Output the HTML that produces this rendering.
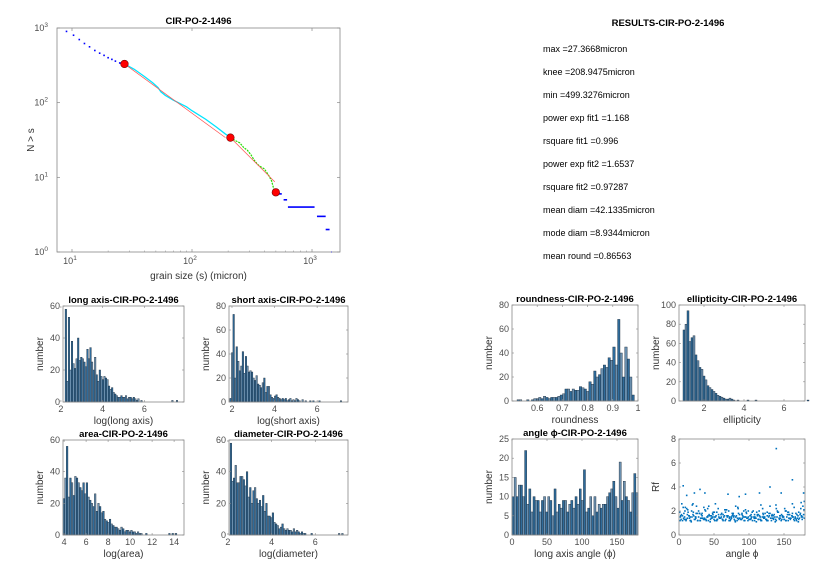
<!DOCTYPE html>
<html><head><meta charset="utf-8"><style>
body{margin:0;background:#fff;}
svg{display:block;font-family:"Liberation Sans",Arial,sans-serif;}
.tk{font-size:9px;fill:#4d4d4d;}
.lb{font-size:10px;fill:#333;}
.tt{font-size:9.5px;font-weight:bold;fill:#000;}
.rs{font-size:9px;fill:#000;}
</style></head><body>
<svg id="fig" width="831" height="576" viewBox="0 0 831 576">
<rect width="831" height="576" fill="#fff"/>
<text class="tt" x="668" y="26" text-anchor="middle">RESULTS-CIR-PO-2-1496</text>
<g>
<text class="rs" x="543" y="52">max =27.3668micron</text>
<text class="rs" x="543" y="75">knee =208.9475micron</text>
<text class="rs" x="543" y="98">min =499.3276micron</text>
<text class="rs" x="543" y="121">power exp fit1 =1.168</text>
<text class="rs" x="543" y="144">rsquare fit1 =0.996</text>
<text class="rs" x="543" y="167">power exp fit2 =1.6537</text>
<text class="rs" x="543" y="190">rsquare fit2 =0.97287</text>
<text class="rs" x="543" y="213">mean diam =42.1335micron</text>
<text class="rs" x="543" y="236">mode diam =8.9344micron</text>
<text class="rs" x="543" y="259">mean round =0.86563</text>
</g>
</svg>
<script>
// ---------- main log-log plot data ----------
const headS=[9,10.3,11.5,12.7,14,15.5,17,18.5,20,21.5,23,25,26.5];
const headN=[900,800,700,620,560,500,460,430,400,380,360,340,330];
const cyanS=[27.4,33,40,47,52,55,60,70,80,90,100,130,160,190,200,209];
const cyanN=[330,280,225,185,160,140,125,108,97,88,78,60,47,38,36,34];
const greenS=[209,230,250,270,290,310,330,350,370,400,430,460,480,495];
const greenN=[34,31,29,25,23,20,17,15,14,13,11,9,7,6.5];
const fit1S=[27.4,190];const fit1N=[330,34];
const fit2S=[209,490];const fit2N=[34,8.7];
const kneeS=[27.37,208.95,499.33];const kneeN=[330,34,6.3];
const stepS1=[500,580,630,1100,1300,1440];
const stepS2=[560,620,1050,1300,1400,1450];
const stepN=[6,5,4,3,2,1];
const xTickLog=[1,2,3];const yTickLog=[0,1,2,3];

// ---------- histograms ----------
const longStart=2.2, longW=0.074;
const longCounts=[58,13,53,20,38,24,21,27,40,26,28,27,25,22,33,27,34,25,20,28,17,13,20,16,14,16,15,14,10,8,9,6,5,4,3,3,4,3,3,4,2,3,3,2,3,2,1,2,0,1,0,0,0,0,0,0,0,0,0,0,0,0,0,0,0,0,0,0,0,1,0,0,1];
const shortStart=1.9, shortW=0.072;
const shortCounts=[3,41,73,20,46,34,26,30,42,24,38,30,25,26,25,20,18,22,15,14,12,16,20,8,13,13,6,4,3,5,6,4,3,2,3,2,3,1,2,3,1,2,1,3,2,1,0,2,0,1,0,0,1,0,1,0,0,0,1,0,0,0,0,0,0,0,0,0,0,0,0,0,1];
const areaStart=3.9, areaW=0.15;
const areaCounts=[23,36,56,24,36,33,25,37,36,33,30,28,33,26,33,24,22,20,18,26,15,20,18,14,15,10,9,8,10,7,6,5,5,4,3,5,4,2,3,3,2,3,2,2,1,2,1,1,0,0,1,0,0,0,0,0,0,0,0,0,0,0,0,0,1,0,1,0,1,0];
const diamStart=2.1, diamW=0.074;
const diamCounts=[58,34,36,44,33,33,37,37,35,31,40,24,30,20,28,30,23,20,22,18,25,15,20,12,12,11,14,8,7,6,4,5,7,4,3,4,3,3,2,4,2,3,2,1,2,1,1,0,0,0,1,0,0,0,0,0,0,0,0,0,0,0,0,0,0,0,0,1,0,1];
const roundStart=0.52, roundW=0.0095;
const roundCounts=[1,1,0,0,1,0,1,2,2,3,2,4,3,2,3,3,3,4,5,6,10,10,8,10,9,9,12,11,10,8,16,14,25,20,22,27,30,28,36,34,45,30,68,40,20,45,35,20,5];
const ellStart=0.95, ellW=0.1;
const ellCounts=[74,80,94,62,66,68,48,42,35,33,26,22,16,14,12,10,8,6,5,4,3,2,2,3,2,1,0,1,0,0,0,0,1,0,0,0,1,0,0,0,0,0,0,0,0,0,0,0,0,0,0,0,0,0,0,0,0,0,0,0,0,0,1];
const angStart=0, angW=3;
const angCounts=[10,15,10,13,13,10,22,8,12,6,10,9,9,6,9,10,6,10,9,5,12,6,8,7,9,9,6,8,9,7,10,8,12,9,17,6,7,10,5,10,6,8,7,8,8,10,11,12,14,10,7,19,9,14,10,9,6,11,16,11];

// ---------- scatter Rf vs angle ----------
const scAng=[2,4,5,7,9,11,12,14,16,18,20,22,24,25,27,29,31,33,35,37,39,41,43,45,47,49,51,53,55,57,59,61,63,65,67,69,71,73,75,77,79,81,83,85,87,89,91,93,95,97,99,101,103,105,107,109,111,113,115,117,119,121,123,125,127,129,131,133,135,137,139,141,143,145,147,149,151,153,155,157,159,161,163,165,167,169,171,173,175,177,179,
3,6,8,10,13,15,17,19,21,23,26,28,30,32,34,36,38,40,42,44,46,48,50,52,54,56,58,60,62,64,66,68,70,72,74,76,78,80,82,84,86,88,90,92,94,96,98,100,102,104,106,108,110,112,114,116,118,120,122,124,126,128,130,132,134,136,138,140,142,144,146,148,150,152,154,156,158,160,162,164,166,168,170,172,174,176,178,
1,5,9,12,16,20,24,28,33,37,41,46,50,54,58,63,67,72,76,81,85,90,94,99,103,108,112,117,121,126,130,135,139,144,148,153,157,162,166,171,175,179,
6,11,22,30,37,52,70,86,95,115,130,139,146,162,178,
1.5,3.5,6.5,8.5,10.5,14.5,17.5,20.5,23.5,26.5,29.5,32.5,35.5,38.5,41.5,44.5,47.5,50.5,53.5,56.5,59.5,62.5,65.5,68.5,71.5,74.5,77.5,80.5,83.5,86.5,89.5,92.5,95.5,98.5,101.5,104.5,107.5,110.5,113.5,116.5,119.5,122.5,125.5,128.5,131.5,134.5,137.5,140.5,143.5,146.5,149.5,152.5,155.5,158.5,161.5,164.5,167.5,170.5,173.5,176.5,178.5,
2.5,7.5,12.5,18.5,24.5,30.5,36.5,42.5,48.5,54.5,60.5,66.5,72.5,78.5,84.5,90.5,96.5,102.5,108.5,114.5,120.5,126.5,132.5,138.5,144.5,150.5,156.5,162.5,168.5,174.5];
const scRf=[1.5,2.6,1.2,1.8,1.3,2.2,1.4,1.6,1.2,2.0,1.7,1.3,1.5,2.4,1.2,1.8,1.4,1.6,1.3,2.1,1.2,1.5,1.7,1.3,1.4,1.9,1.2,1.6,1.3,1.5,1.4,1.8,1.2,1.6,1.3,1.5,2.0,1.2,1.4,1.7,1.3,1.5,1.2,1.8,1.4,1.3,1.6,1.2,2.1,1.4,1.5,1.3,1.7,1.2,1.5,1.4,1.9,1.3,1.6,1.2,1.5,1.4,1.8,1.3,1.2,1.6,1.4,1.7,1.3,1.5,1.2,1.9,1.4,1.6,1.3,1.5,2.2,1.2,1.7,1.4,1.3,1.6,1.5,1.2,1.8,1.4,1.3,1.7,1.5,2.4,1.4,
1.3,2.3,1.5,1.2,1.9,1.4,1.2,2.5,1.6,1.3,1.8,1.5,1.2,1.7,1.4,1.3,2.0,1.5,1.2,1.6,1.4,1.8,1.3,1.5,1.2,2.2,1.4,1.7,1.3,1.5,1.2,2.1,1.6,1.4,1.3,1.8,1.5,1.2,1.6,2.3,1.4,1.3,1.7,1.5,1.2,1.9,1.4,1.3,1.6,1.5,2.0,1.2,1.4,1.7,1.3,1.5,1.2,1.8,1.4,1.3,1.6,1.5,2.4,1.2,1.4,1.7,1.3,1.5,1.9,1.4,1.2,1.6,1.3,2.0,1.5,1.2,1.7,1.4,1.8,1.3,1.5,1.2,1.6,1.4,2.2,1.3,1.7,
1.9,1.6,2.3,1.7,1.5,2.6,1.4,2.0,1.8,1.3,2.2,1.6,1.5,1.9,1.4,1.7,2.1,1.5,1.6,2.4,1.3,1.8,1.5,2.0,1.4,1.7,1.6,2.5,1.5,1.9,1.8,1.4,2.2,1.6,1.5,2.0,1.7,2.6,1.4,1.9,1.6,2.8,
4.1,3.3,3.5,3.8,3.5,2.6,3.4,3.2,3.4,3.5,4.0,7.2,3.5,4.6,3.5,
1.2,1.7,1.4,2.0,1.3,1.6,1.1,1.9,1.5,1.2,1.8,1.4,2.3,1.3,1.6,1.1,1.5,1.9,1.2,1.7,1.4,1.3,2.1,1.6,1.2,1.5,1.8,1.1,1.4,1.7,1.3,2.0,1.5,1.2,1.6,1.9,1.4,1.1,1.7,1.3,2.2,1.5,1.2,1.8,1.4,1.6,1.1,2.0,1.3,1.7,1.5,1.2,1.9,1.4,1.6,2.3,1.3,1.1,1.8,1.5,2.1,
1.6,1.3,2.1,1.5,1.8,1.2,1.4,2.4,1.7,1.3,1.5,1.9,1.2,1.6,2.2,1.4,1.8,1.3,1.5,2.0,1.7,1.2,1.6,2.5,1.4,1.3,1.9,1.5,1.7,2.7];

const svg=document.getElementById('fig');
const NS='http://www.w3.org/2000/svg';
function mk(tag,attrs,parent){const e=document.createElementNS(NS,tag);for(const k in attrs)e.setAttribute(k,attrs[k]);(parent||svg).appendChild(e);return e;}
function txt(str,x,y,cls,anchor,parent){const t=mk('text',{x:x,y:y,class:cls,'text-anchor':anchor||'middle'},parent);t.textContent=str;return t;}

// ===== main plot =====
const M={l:57,r:340,t:28,b:252,xmin:Math.log10(7.5),xmax:Math.log10(1711),ymin:0,ymax:3};
const mx=s=>M.l+(Math.log10(s)-M.xmin)/(M.xmax-M.xmin)*(M.r-M.l);
const my=n=>M.b-(Math.log10(n)-M.ymin)/(M.ymax-M.ymin)*(M.b-M.t);
const mg=mk('g',{});


mk('rect',{x:M.l,y:M.t,width:M.r-M.l,height:M.b-M.t,fill:'#fff',stroke:'#888','stroke-width':0.8},mg);
xTickLog.forEach(p=>{const x=mx(Math.pow(10,p));
 mk('line',{x1:x,x2:x,y1:M.b,y2:M.b-3,stroke:'#888','stroke-width':0.7},mg);
 mk('line',{x1:x,x2:x,y1:M.t,y2:M.t+3,stroke:'#888','stroke-width':0.7},mg);
 const t=txt('10',x-2,M.b+12,'tk','middle',mg);const s=mk('tspan',{dy:-4,'font-size':'6.5px'},t);s.textContent=p;
 
 for(let k=2;k<10;k++){const xm=mx(k*Math.pow(10,p));if(xm<M.r&&xm>M.l){mk('line',{x1:xm,x2:xm,y1:M.b,y2:M.b-1.5,stroke:'#888','stroke-width':0.5},mg);}}
});
yTickLog.forEach(p=>{const y=my(Math.pow(10,p));
 mk('line',{x1:M.l,x2:M.l+3,y1:y,y2:y,stroke:'#888','stroke-width':0.7},mg);
 mk('line',{x1:M.r,x2:M.r-3,y1:y,y2:y,stroke:'#888','stroke-width':0.7},mg);
 const t=txt('10',M.l-9,y+3,'tk','end',mg);const s=mk('tspan',{dy:-4,'font-size':'6.5px'},t);s.textContent=p;
 
});
headS.forEach((s,i)=>{const c=mk('rect',{x:mx(s)-0.8,y:my(headN[i])-0.8,width:1.6,height:1.6,fill:'#0000ff'},mg);
 });
const cy=mk('polyline',{points:cyanS.map((s,i)=>mx(s)+','+my(cyanN[i])).join(' '),fill:'none',stroke:'#00e5ff','stroke-width':1.3},mg);

const gr=mk('polyline',{points:greenS.map((s,i)=>mx(s)+','+my(greenN[i])).join(' '),fill:'none',stroke:'#22dd00','stroke-width':1.2,'stroke-dasharray':'2 1'},mg);

const f1=mk('line',{x1:mx(fit1S[0]),y1:my(fit1N[0]),x2:mx(fit1S[1]),y2:my(fit1N[1]),stroke:'#ff5050','stroke-width':0.7},mg);

const f2=mk('line',{x1:mx(fit2S[0]),y1:my(fit2N[0]),x2:mx(fit2S[1]),y2:my(fit2N[1]),stroke:'#ff5050','stroke-width':0.7},mg);

stepS1.forEach((s,i)=>{const l=mk('line',{x1:mx(s),x2:mx(stepS2[i]),y1:my(stepN[i]),y2:my(stepN[i]),stroke:'#0000ff','stroke-width':1.6},mg);
 });
kneeS.forEach((s,i)=>{const c=mk('circle',{cx:mx(s),cy:my(kneeN[i]),r:3.8,fill:'#ff0000',stroke:'#7a0000','stroke-width':0.6},mg);
 });
const mt=txt('CIR-PO-2-1496',(M.l+M.r)/2,24,'tt','middle',mg);

const mxl=txt('grain size (s) (micron)',(M.l+M.r)/2,279,'lb','middle',mg);

const myl=txt('N > s',0,0,'lb','middle',mg);myl.setAttribute('transform','translate(34,140) rotate(-90)');


// ===== generic panel =====
function panel(name,box,xlim,ylim,xt,yt,title,xlabel,ylabel){
 const g=mk('g',{});
 
 
 const X=v=>box.l+(v-xlim[0])/(xlim[1]-xlim[0])*(box.r-box.l);
 const Y=v=>box.b-(v-ylim[0])/(ylim[1]-ylim[0])*(box.b-box.t);
 mk('rect',{x:box.l,y:box.t,width:box.r-box.l,height:box.b-box.t,fill:'#fff',stroke:'none'},g);
 const inner=mk('g',{},g);
 xt.forEach(v=>{const x=X(v);mk('line',{x1:x,x2:x,y1:box.b,y2:box.b-2,stroke:'#888','stroke-width':0.6},g);
  mk('line',{x1:x,x2:x,y1:box.t,y2:box.t+2,stroke:'#888','stroke-width':0.6},g);
  const t=txt(String(v),x,box.b+10,'tk','middle',g);});
 yt.forEach(v=>{const y=Y(v);mk('line',{x1:box.l,x2:box.l+2,y1:y,y2:y,stroke:'#888','stroke-width':0.6},g);
  mk('line',{x1:box.r,x2:box.r-2,y1:y,y2:y,stroke:'#888','stroke-width':0.6},g);
  const t=txt(String(v),box.l-3,y+3,'tk','end',g);});
 if(title){const t=txt(title,(box.l+box.r)/2,box.t-3,'tt','middle',g);}
 const xl=txt(xlabel,(box.l+box.r)/2,box.b+22,'lb','middle',g);
 const yl=txt(ylabel,0,0,'lb','middle',g);yl.setAttribute('transform','translate('+(box.l-20)+','+((box.t+box.b)/2)+') rotate(-90)');
 
 return {g:g,inner:inner,X:X,Y:Y,box:box};
}
function frame(p){mk('rect',{x:p.box.l,y:p.box.t,width:p.box.r-p.box.l,height:p.box.b-p.box.t,fill:'none',stroke:'#888','stroke-width':0.8},p.g);}
function hist(p,start,w,counts){
 counts.forEach((c,i)=>{if(c<=0)return;
  const x0=p.X(start+i*w),x1=p.X(start+(i+1)*w);
  const r=mk('rect',{x:x0,y:p.Y(c),width:Math.max(x1-x0,0.5),height:p.Y(0)-p.Y(c),fill:i%2?'#6a8fae':'#2f6b9a',stroke:'#1a2a3a','stroke-width':0.4},p.inner);
  
  
 });
 frame(p);
}
let p;
p=panel('long-axis-histogram',{l:63,r:184,t:306,b:402},[2.1,7.9],[0,60],[2,4,6],[0,20,40,60],'long axis-CIR-PO-2-1496','log(long axis)','number');hist(p,longStart,longW,longCounts);
p=panel('short-axis-histogram',{l:229,r:348,t:306,b:402},[1.86,7.45],[0,80],[2,4,6],[0,20,40,60,80],'short axis-CIR-PO-2-1496','log(short axis)','number');hist(p,shortStart,shortW,shortCounts);
p=panel('area-histogram',{l:63,r:184,t:440,b:535},[3.9,14.9],[0,60],[4,6,8,10,12,14],[0,20,40,60],'area-CIR-PO-2-1496','log(area)','number');hist(p,areaStart,areaW,areaCounts);
p=panel('diameter-histogram',{l:229,r:348,t:440,b:535},[2.05,7.5],[0,60],[2,4,6],[0,20,40,60],'diameter-CIR-PO-2-1496','log(diameter)','number');hist(p,diamStart,diamW,diamCounts);
p=panel('roundness-histogram',{l:512,r:638,t:305,b:401},[0.5,1],[0,80],[0.6,0.7,0.8,0.9,1],[0,20,40,60,80],'roundness-CIR-PO-2-1496','roundness','number');hist(p,roundStart,roundW,roundCounts);
p=panel('ellipticity-histogram',{l:679,r:805,t:305,b:401},[0.75,7.05],[0,100],[2,4,6],[0,20,40,60,80,100],'ellipticity-CIR-PO-2-1496','ellipticity','number');hist(p,ellStart,ellW,ellCounts);
p=panel('angle-histogram',{l:512,r:638,t:439,b:535},[0,180],[0,25],[0,50,100,150],[0,5,10,15,20,25],'angle \u03D5-CIR-PO-2-1496','long axis angle (\u03D5)','number');hist(p,angStart,angW,angCounts);
p=panel('rf-angle-scatter',{l:679,r:805,t:439,b:535},[0,180],[0,8],[0,50,100,150],[0,2,4,6,8],'','angle \u03D5','Rf');
scAng.forEach((a,i)=>{const c=mk('rect',{x:p.X(a)-0.8,y:p.Y(scRf[i])-0.8,width:1.6,height:1.6,fill:'#0072bd'},p.inner);
 
 
});
frame(p);
</script>
</body></html>
